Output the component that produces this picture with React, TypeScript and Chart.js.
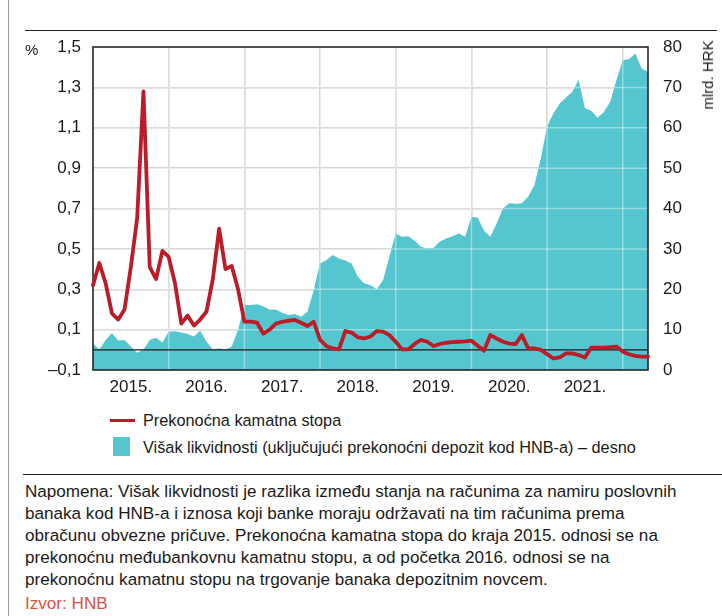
import React, { useEffect, useRef } from "react";
import { Chart, registerables } from "chart.js";

Chart.register(...registerables);

// ---- data (monthly, Jan 2015 = index 0) ----
const yearLabels = ["2015.", "2016.", "2017.", "2018.", "2019.", "2020.", "2021."];
const firstYear = 2015;

// Prekonočna kamatna stopa, % (left axis)
const overnightRate = [
  0.32, 0.43, 0.33, 0.18, 0.15, 0.2, 0.41, 0.65, 1.28, 0.41, 0.35, 0.49,
  0.46, 0.33, 0.13, 0.17, 0.12, 0.15, 0.19, 0.35, 0.6, 0.4, 0.415, 0.3,
  0.14, 0.14, 0.135, 0.08, 0.1, 0.13, 0.139, 0.144, 0.148, 0.134, 0.118, 0.139,
  0.049, 0.019, 0.007, 0.002, 0.093, 0.085, 0.062, 0.057, 0.066, 0.093, 0.09, 0.073,
  0.04, 0.002, 0.002, 0.029, 0.049, 0.04, 0.019, 0.029, 0.035, 0.038, 0.04, 0.042,
  0.045, 0.02, -0.004, 0.073, 0.056, 0.04, 0.031, 0.028, 0.073, 0.007, 0.007, 0.0,
  -0.021, -0.043, -0.038, -0.018, -0.018, -0.026, -0.038, 0.011, 0.011, 0.011, 0.013, 0.016,
  -0.009, -0.022, -0.03, -0.034, -0.034,
];

// Višak likvidnosti, mlrd. HRK (right axis)
const excessLiquidity = [
  6.6, 5.1, 7.4, 9.1, 7.3, 7.4, 5.8, 4.3, 5.1, 7.4, 8.0, 6.8,
  9.5, 9.6, 9.3, 8.9, 8.3, 9.7, 7.0, 5.1, 5.4, 5.1, 5.8, 9.9,
  16.1, 16.1, 16.3, 15.8, 14.9, 15.0, 14.2, 13.6, 13.9, 13.2, 14.4, 19.8,
  26.4, 27.2, 28.5, 27.6, 27.1, 26.4, 23.1, 21.5, 21.0, 20.0, 22.3, 28.1,
  33.8, 33.0, 33.1, 32.0, 30.5, 30.1, 30.3, 31.8, 32.6, 33.1, 33.8, 33.0,
  37.9, 37.8, 34.5, 33.0, 36.3, 40.0, 41.3, 41.2, 41.3, 42.9, 45.8, 52.4,
  60.4, 63.5, 66.0, 67.5, 68.9, 71.9, 64.8, 64.2, 62.5, 63.9, 66.4, 71.8,
  76.7, 77.0, 78.4, 74.7, 73.8,
];

const leftMin = -0.1;
const leftMax = 1.5;
const leftStep = 0.2;
const rightMin = 0;
const rightMax = 80;
const rightStep = 10;

const legendRate = "Prekonoćna kamatna stopa";
const legendLiquidity = "Višak likvidnosti (uključujući prekonoćni depozit kod HNB-a) – desno";
const noteLines = [
  "Napomena: Višak likvidnosti je razlika između stanja na računima za namiru poslovnih",
  "banaka kod HNB-a i iznosa koji banke moraju održavati na tim računima prema",
  "obračunu obvezne pričuve. Prekonoćna kamatna stopa do kraja 2015. odnosi se na",
  "prekonoćnu međubankovnu kamatnu stopu, a od početka 2016. odnosi se na",
  "prekonoćnu kamatnu stopu na trgovanje banaka depozitnim novcem.",
];
const sourceText = "Izvor: HNB";

const RED = "#bb1c27";
const TEAL = "#55c5cf";
const GRID = "#c8c8c8";
const FONT = '"Liberation Sans", Arial, Helvetica, sans-serif';

const overlayPlugin = {
  id: "overlayPlugin",
  afterDatasetDraw(chart: any, args: any) {
    if (args.index !== 1) return;
    const { ctx, chartArea: a, scales } = chart;
    ctx.save();
    ctx.beginPath();
    ctx.rect(a.left, a.top, a.right - a.left, a.bottom - a.top);
    ctx.clip();
    ctx.strokeStyle = "rgba(255,255,255,0.38)";
    ctx.lineWidth = 1.5;
    scales.y.ticks.forEach((t: any) => {
      if (t.value > leftMin + 0.01 && t.value < leftMax - 0.01) {
        const y = scales.y.getPixelForValue(t.value);
        ctx.beginPath();
        ctx.moveTo(a.left, y);
        ctx.lineTo(a.right, y);
        ctx.stroke();
      }
    });
    scales.x.ticks.forEach((t: any) => {
      if (t.value % 12 === 0 && t.value > 0) {
        const x = scales.x.getPixelForValue(t.value);
        ctx.beginPath();
        ctx.moveTo(x, a.top);
        ctx.lineTo(x, a.bottom);
        ctx.stroke();
      }
    });
    ctx.restore();
    ctx.save();
    const y0 = scales.y.getPixelForValue(0);
    ctx.strokeStyle = "#1a1a1a";
    ctx.lineWidth = 1.3;
    ctx.beginPath();
    ctx.moveTo(a.left, y0);
    ctx.lineTo(a.right, y0);
    ctx.stroke();
    ctx.lineWidth = 1.6;
    ctx.strokeStyle = "#262626";
    ctx.strokeRect(a.left, a.top, a.right - a.left, a.bottom - a.top);
    ctx.restore();
  },
};

function fmtLeft(v: number) {
  const s = Number(v).toFixed(1).replace(".", ",");
  return s.startsWith("-") ? "–" + s.slice(1) : s;
}

function ChartCanvas() {
  const ref = useRef<HTMLCanvasElement | null>(null);
  useEffect(() => {
    if (!ref.current) return;
    const rateData = overnightRate.map((v, i) => ({ x: i, y: v }));
    const liqData = excessLiquidity.map((v, i) => ({ x: i, y: v }));
    const lastIndex = overnightRate.length - 1;
    const chart = new Chart(ref.current, {
      type: "line",
      data: {
        datasets: [
          {
            label: legendRate,
            data: rateData,
            yAxisID: "y",
            borderColor: RED,
            borderWidth: 3.8,
            pointRadius: 0,
            tension: 0,
            borderJoinStyle: "round",
            borderCapStyle: "round",
            fill: false,
            clip: 4,
          },
          {
            label: legendLiquidity,
            data: liqData,
            yAxisID: "y2",
            borderWidth: 0,
            borderColor: TEAL,
            backgroundColor: TEAL,
            pointRadius: 0,
            tension: 0,
            fill: "start",
          },
        ],
      },
      options: {
        animation: false,
        responsive: false,
        devicePixelRatio: 1,
        parsing: false as any,
        layout: { padding: { top: 47, left: 0, right: 0, bottom: 0 } },
        plugins: { legend: { display: false }, tooltip: { enabled: false } },
        scales: {
          x: {
            type: "linear",
            min: 0,
            max: lastIndex,
            afterBuildTicks: (scale: any) => {
              const t = [];
              for (let v = 0; v <= lastIndex; v += 6) t.push({ value: v });
              scale.ticks = t;
            },
            afterFit: (scale: any) => {
              scale.height = 30;
            },
            border: { display: false },
            grid: {
              drawTicks: false,
              lineWidth: 1.5,
              color: (c: any) =>
                c.tick && c.tick.value % 12 === 0 && c.tick.value > 0 ? GRID : "rgba(0,0,0,0)",
            },
            ticks: {
              autoSkip: false,
              maxRotation: 0,
              padding: 7,
              color: "#1a1a1a",
              font: { family: FONT, size: 17 },
              callback: (v: any) => {
                const n = Number(v);
                if (n % 12 !== 6) return "";
                return yearLabels[(n - 6) / 12] ?? `${firstYear + (n - 6) / 12}.`;
              },
            },
          },
          y: {
            position: "left",
            min: leftMin,
            max: leftMax,
            afterFit: (scale: any) => {
              scale.width = 93;
            },
            border: { display: false },
            grid: {
              drawTicks: false,
              lineWidth: 1.5,
              color: (c: any) =>
                c.tick && c.tick.value > leftMin + 0.01 && c.tick.value < leftMax - 0.01
                  ? GRID
                  : "rgba(0,0,0,0)",
            },
            ticks: {
              stepSize: leftStep,
              padding: 12,
              color: "#1a1a1a",
              font: { family: FONT, size: 17 },
              callback: (v: any) => fmtLeft(Number(v)),
            },
          },
          y2: {
            position: "right",
            min: rightMin,
            max: rightMax,
            afterFit: (scale: any) => {
              scale.width = 74;
            },
            border: { display: false },
            grid: { display: false, drawTicks: false },
            ticks: {
              stepSize: rightStep,
              padding: 15,
              color: "#1a1a1a",
              font: { family: FONT, size: 17 },
            },
          },
        },
      },
      plugins: [overlayPlugin],
    } as any);
    return () => chart.destroy();
  }, []);
  return (
    <canvas
      ref={ref}
      width={722}
      height={400}
      style={{ position: "absolute", left: 0, top: 0, width: 722, height: 400 }}
    />
  );
}

export default function App() {
  const text: React.CSSProperties = {
    position: "absolute",
    fontFamily: FONT,
    color: "#1a1a1a",
    whiteSpace: "nowrap",
  };
  return (
    <div
      style={{
        position: "absolute",
        left: 0,
        top: 0,
        width: 722,
        height: 616,
        background: "#fff",
        overflow: "hidden",
      }}
    >
      <div style={{ position: "absolute", left: 7.5, top: 0, width: 1.5, height: 616, background: "#9a9a9a" }} />
      <div style={{ position: "absolute", left: 25, top: 29.5, width: 692, height: 1.5, background: "#222" }} />
      <ChartCanvas />
      <div style={{ ...text, left: 25, top: 41, fontSize: 15, lineHeight: "18px" }}>%</div>
      <div
        style={{
          ...text,
          left: 708,
          top: 75,
          fontSize: 15,
          lineHeight: "18px",
          transform: "translate(-50%,-50%) rotate(-90deg)",
        }}
      >
        mlrd. HRK
      </div>

      <div style={{ position: "absolute", left: 110, top: 418.5, width: 25, height: 3.6, background: RED }} />
      <div style={{ ...text, left: 143, top: 409, fontSize: 16.3, lineHeight: "22px" }}>{legendRate}</div>
      <div style={{ position: "absolute", left: 113, top: 437, width: 17, height: 19, background: TEAL }} />
      <div style={{ ...text, left: 143, top: 436, fontSize: 16.3, lineHeight: "22px" }}>{legendLiquidity}</div>

      <div style={{ position: "absolute", left: 23, top: 473.5, width: 699, height: 1.5, background: "#222" }} />
      {noteLines.map((line, i) => (
        <div key={i} style={{ ...text, left: 25, top: 481 + i * 22, fontSize: 17.1, lineHeight: "22px" }}>
          {line}
        </div>
      ))}
      <div style={{ ...text, left: 25, top: 593, fontSize: 17.1, lineHeight: "22px", color: "#dc4f45" }}>
        {sourceText}
      </div>
    </div>
  );
}
